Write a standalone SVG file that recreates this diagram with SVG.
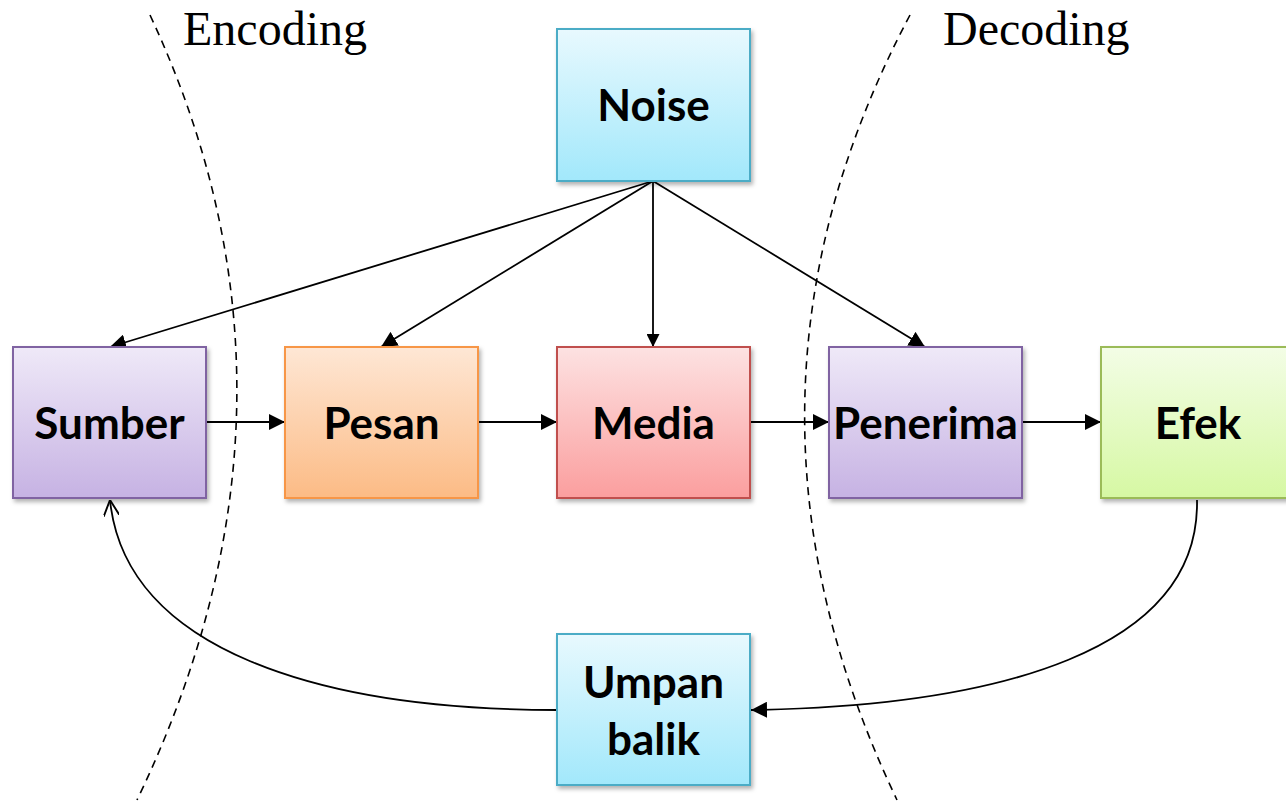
<svg xmlns="http://www.w3.org/2000/svg" width="1286" height="801" viewBox="0 0 1286 801">
<style>
.box{stroke-width:2;filter:url(#sh)}
.lbl{font-family:Lato,"Open Sans",sans-serif;font-weight:bold;font-size:44px;text-anchor:middle;fill:#000}
.ttl{font-family:"Liberation Serif",serif;font-size:48px;fill:#000}
.ln{stroke:#000;stroke-width:1.8;fill:none}
.dash{stroke:#000;stroke-width:1.6;fill:none;stroke-dasharray:8,6}
</style>
<defs>
<filter id="sh" x="-10%" y="-10%" width="130%" height="130%"><feDropShadow dx="2" dy="3" stdDeviation="2" flood-color="#000" flood-opacity="0.3"/></filter>
<linearGradient id="gP" x1="0" y1="0" x2="0" y2="1"><stop offset="0" stop-color="#efe9f8"/><stop offset="1" stop-color="#c6b2e3"/></linearGradient>
<linearGradient id="gO" x1="0" y1="0" x2="0" y2="1"><stop offset="0" stop-color="#fee7d5"/><stop offset="1" stop-color="#fcbb85"/></linearGradient>
<linearGradient id="gR" x1="0" y1="0" x2="0" y2="1"><stop offset="0" stop-color="#fde2e2"/><stop offset="1" stop-color="#fb9e9e"/></linearGradient>
<linearGradient id="gG" x1="0" y1="0" x2="0" y2="1"><stop offset="0" stop-color="#f3fde6"/><stop offset="1" stop-color="#d6f8a3"/></linearGradient>
<linearGradient id="gB" x1="0" y1="0" x2="0" y2="1"><stop offset="0" stop-color="#e8f9fe"/><stop offset="1" stop-color="#a2e8fb"/></linearGradient>
<marker id="ar" viewBox="0 0 10 10" refX="10" refY="5" markerWidth="13" markerHeight="13" markerUnits="userSpaceOnUse" orient="auto"><path d="M0,0 L10,5 L0,10 z" fill="#000"/></marker>
<marker id="arL" viewBox="0 0 10 10" refX="10" refY="5" markerWidth="16" markerHeight="16" markerUnits="userSpaceOnUse" orient="auto"><path d="M0,0 L10,5 L0,10 z" fill="#000"/></marker>
<marker id="op" viewBox="0 0 10 10" refX="10" refY="5" markerWidth="16" markerHeight="16" markerUnits="userSpaceOnUse" orient="auto"><path d="M0,0 L10,5 L0,10" fill="none" stroke="#000" stroke-width="1.2"/></marker>
</defs>
<g id="dividers">
<path class="dash" d="M150,15 Q330,400 137,800"/>
<path class="dash" d="M910,15 Q706,400 897,800"/>
</g>
<text class="ttl" x="183" y="45">Encoding</text>
<text class="ttl" x="943" y="45">Decoding</text>
<g id="connectors">
<path class="ln" d="M653,181 L110,347" marker-end="url(#arL)"/>
<path class="ln" d="M653,181 L381,347" marker-end="url(#arL)"/>
<path class="ln" d="M653,181 L653,347" marker-end="url(#ar)"/>
<path class="ln" d="M653,181 L925,347" marker-end="url(#arL)"/>
<path class="ln" d="M206,422 L285,422" marker-end="url(#arL)"/>
<path class="ln" d="M478,422 L557,422" marker-end="url(#arL)"/>
<path class="ln" d="M750,422 L829,422" marker-end="url(#arL)"/>
<path class="ln" d="M1022,422 L1101,422" marker-end="url(#arL)"/>
<path class="ln" d="M1197,500 C1200,650 1000,706 751,710" marker-end="url(#arL)"/>
<path class="ln" d="M557,710 C320,710 125,650 110,500" marker-end="url(#op)"/>
</g>
<g id="noise"><rect class="box" x="557" y="29" width="193" height="152" fill="url(#gB)" stroke="#4bacc6"/><text class="lbl" x="653.5" y="121">Noise</text></g>
<g id="sumber"><rect class="box" x="13" y="347" width="193" height="151" fill="url(#gP)" stroke="#8064a2"/><text class="lbl" x="109.5" y="439">Sumber</text></g>
<g id="pesan"><rect class="box" x="285" y="347" width="193" height="151" fill="url(#gO)" stroke="#f79646"/><text class="lbl" x="381.5" y="439">Pesan</text></g>
<g id="media"><rect class="box" x="557" y="347" width="193" height="151" fill="url(#gR)" stroke="#c0504d"/><text class="lbl" x="653.5" y="439">Media</text></g>
<g id="penerima"><rect class="box" x="829" y="347" width="193" height="151" fill="url(#gP)" stroke="#8064a2"/><text class="lbl" x="925.5" y="439">Penerima</text></g>
<g id="efek"><rect class="box" x="1101" y="347" width="193" height="151" fill="url(#gG)" stroke="#9bbb59"/><text class="lbl" x="1198" y="439">Efek</text></g>
<g id="umpan"><rect class="box" x="557" y="634" width="193" height="151" fill="url(#gB)" stroke="#4bacc6"/><text class="lbl" x="653.5" y="698">Umpan</text><text class="lbl" x="653.5" y="755">balik</text></g>
</svg>
